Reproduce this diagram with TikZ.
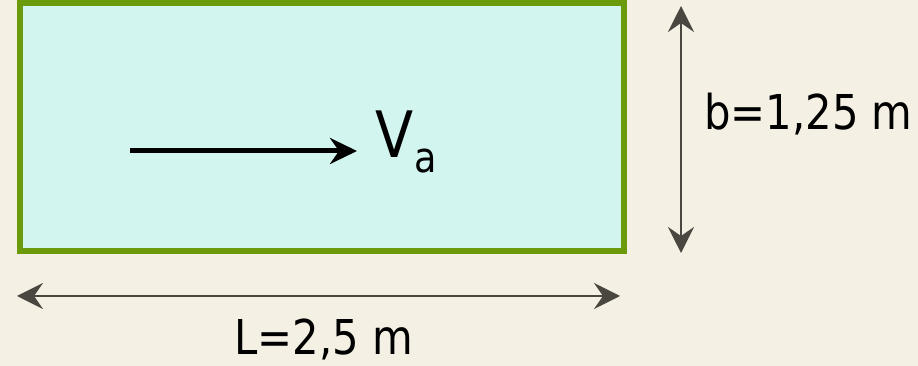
\documentclass[tikz,border=0pt]{standalone}
\usepackage{fontspec}
\newfontfamily\tah[FakeStretch=0.87]{DejaVu Sans}
\usetikzlibrary{arrows.meta}
\definecolor{bgc}{HTML}{F5F0E4}
\definecolor{fillc}{HTML}{D2F6EF}
\definecolor{borderc}{HTML}{6B9A0A}
\definecolor{dimc}{HTML}{4A4640}
\tikzset{
  dimline/.style={draw=dimc, line width=2pt, {Stealth[length=26pt,width=26pt,inset=9pt]}-{Stealth[length=26pt,width=26pt,inset=9pt]}},
  flowarrow/.style={draw=black, line width=5pt, -{Stealth[length=27pt,width=26pt,inset=9pt]}},
  lbl/.style={inner sep=0pt, anchor=base west, font=\tah\fontsize{48}{56}\selectfont}
}
\begin{document}
\begin{tikzpicture}[x=1pt,y=1pt]
\fill[bgc] (0,0) rectangle (918,366);
\useasboundingbox (0,0) rectangle (918,366);
% channel
\node[draw=borderc, fill=fillc, line width=6pt, minimum width=604pt, minimum height=248pt, inner sep=0pt, anchor=south west] (chan) at (16.5,112) {};
% flow arrow
\coordinate (fs) at (130,215);
\coordinate (fe) at (357,215);
\draw[flowarrow] (fs) -- (fe);
\node[inner sep=0pt, anchor=base west, font=\tah\fontsize{64}{70}\selectfont] (va) at (375,208) {V};
\node[inner sep=0pt, anchor=base west, font=\tah\fontsize{42}{48}\selectfont] (vasub) at (414,193) {a};
% horizontal dimension
\coordinate (hl) at (17,70);
\coordinate (hr) at (620,70);
\draw[dimline] (hl) -- (hr);
\node[lbl] (L) at (234,11) {L=2,5 m};
% vertical dimension
\coordinate (vt) at (681,360);
\coordinate (vb) at (681,113);
\draw[dimline] (vt) -- (vb);
\node[lbl] (b) at (704,236) {b=1,25 m};
\end{tikzpicture}
\end{document}
